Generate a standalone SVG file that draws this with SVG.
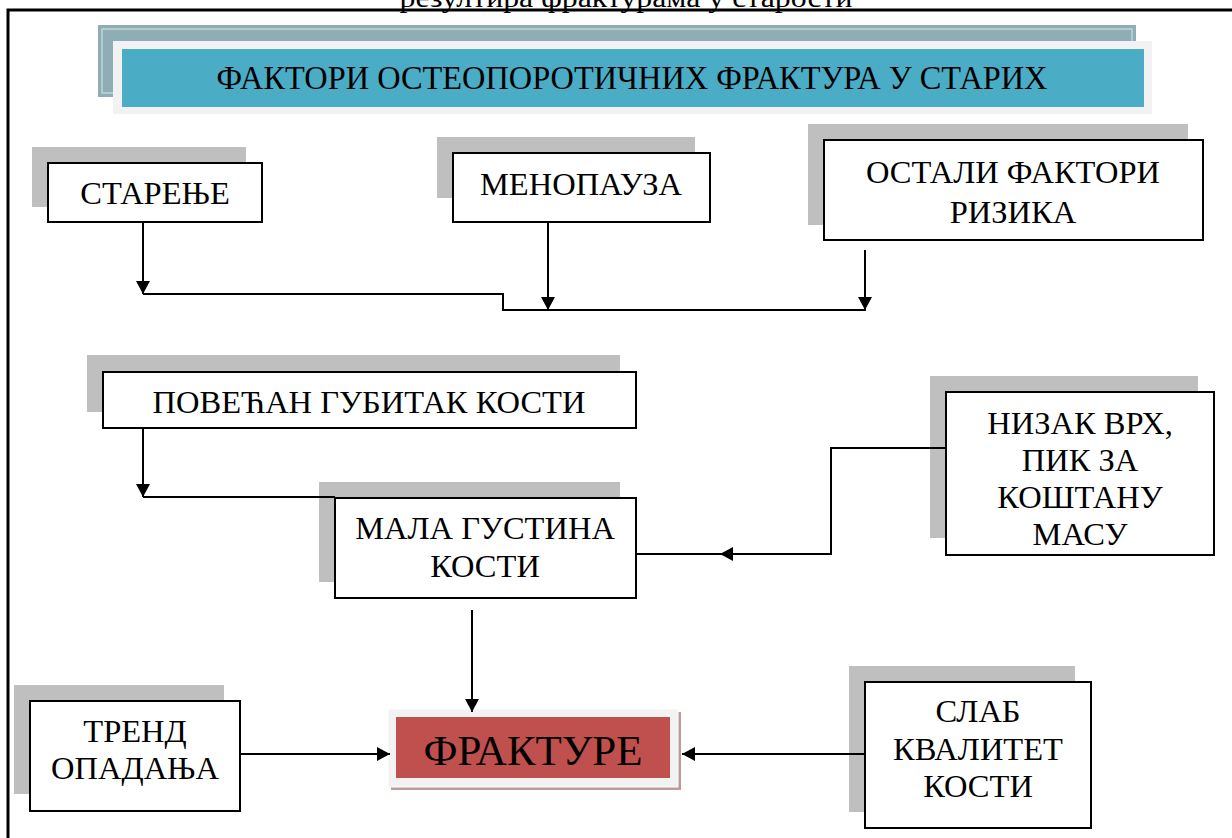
<svg xmlns="http://www.w3.org/2000/svg" width="1232" height="838" viewBox="0 0 1232 838">
<style>
.t{font-family:"Liberation Serif","Times New Roman",serif;font-size:32.5px;fill:#000;text-anchor:middle}
.sh{fill:#bfbfbf}
.bx{fill:#fff;stroke:#000;stroke-width:2}
.ln{fill:none;stroke:#000;stroke-width:2}
</style>
<defs>
<marker id="ah" markerUnits="userSpaceOnUse" markerWidth="14" markerHeight="14" refX="13" refY="7" orient="auto">
<path d="M0,0 L13,7 L0,14 z" fill="#000"/>
</marker>
</defs>
<rect width="1232" height="838" fill="#fff"/>
<text x="626" y="7" font-family="Liberation Serif, serif" font-size="28" text-anchor="middle" textLength="453" lengthAdjust="spacingAndGlyphs">резултира фрактурама у старости</text>
<path d="M8,838 V10 H1232" fill="none" stroke="#000" stroke-width="3"/>

<g id="header">
<rect x="98" y="25" width="1038" height="72" fill="#8fadb4"/>
<rect x="102" y="29" width="1030" height="64" fill="none" stroke="#dbe6e9" stroke-width="1"/>
<rect x="113" y="41" width="1039" height="73" fill="#f2f2f2"/>
<rect x="122" y="49" width="1022" height="58" fill="#4bacc6"/>
<text class="t" x="632" y="89" style="font-size:33px" textLength="831" lengthAdjust="spacingAndGlyphs">ФАКТОРИ ОСТЕОПОРОТИЧНИХ ФРАКТУРА У СТАРИХ</text>
</g>

<g id="starenje">
<rect class="sh" x="32" y="147" width="214" height="60"/>
<rect class="bx" x="48" y="163" width="214" height="59"/>
<text class="t" x="155" y="204">СТАРЕЊЕ</text>
</g>

<g id="menopauza">
<rect class="sh" x="437" y="137" width="258" height="61"/>
<rect class="bx" x="453" y="153" width="257" height="69"/>
<text class="t" x="581" y="195">МЕНОПАУЗА</text>
</g>

<g id="ostali">
<rect class="sh" x="808" y="124" width="380" height="101"/>
<rect class="bx" x="824" y="140" width="379" height="100"/>
<text class="t" x="1013" y="183">ОСТАЛИ ФАКТОРИ</text>
<text class="t" x="1013" y="223">РИЗИКА</text>
</g>

<g id="povecan">
<rect class="sh" x="87" y="355" width="533" height="57"/>
<rect class="bx" x="103" y="372" width="533" height="56"/>
<text class="t" x="369" y="413">ПОВЕЋАН ГУБИТАК КОСТИ</text>
</g>

<g id="mala">
<rect class="sh" x="319" y="482" width="301" height="100"/>
<rect class="bx" x="335" y="498" width="301" height="100"/>
<text class="t" x="485" y="539">МАЛА ГУСТИНА</text>
<text class="t" x="485" y="577">КОСТИ</text>
</g>

<g id="nizak">
<rect class="sh" x="930" y="376" width="268" height="162"/>
<rect class="bx" x="946" y="392" width="268" height="163"/>
<text class="t" x="1080" y="434">НИЗАК ВРХ,</text>
<text class="t" x="1080" y="471">ПИК ЗА</text>
<text class="t" x="1080" y="508">КОШТАНУ</text>
<text class="t" x="1080" y="545">МАСУ</text>
</g>

<g id="trend">
<rect class="sh" x="14" y="685" width="210" height="109"/>
<rect class="bx" x="30" y="701" width="210" height="110"/>
<text class="t" x="135" y="742">ТРЕНД</text>
<text class="t" x="135" y="779">ОПАДАЊА</text>
</g>

<g id="slab">
<rect class="sh" x="849" y="666" width="226" height="146"/>
<rect class="bx" x="865" y="682" width="226" height="146"/>
<text class="t" x="978" y="722">СЛАБ</text>
<text class="t" x="978" y="760">КВАЛИТЕТ</text>
<text class="t" x="978" y="797">КОСТИ</text>
</g>

<g id="frakture">
<rect x="391" y="712" width="290" height="78" fill="#bf9a9a"/>
<rect x="388" y="709" width="290" height="78" fill="#f2f2f2" stroke="#fff" stroke-width="1"/>
<rect x="396" y="717" width="274" height="61" fill="#c0504d"/>
<text class="t" x="533" y="765" style="font-size:43px">ФРАКТУРЕ</text>
</g>

<g id="connectors">
<path class="ln" d="M143,222 V294" marker-end="url(#ah)"/>
<path class="ln" d="M143,294 H503 V310 H866"/>
<path class="ln" d="M548,222 V310" marker-end="url(#ah)"/>
<path class="ln" d="M865,250 V310" marker-end="url(#ah)"/>
<path class="ln" d="M143,428 V497" marker-end="url(#ah)"/>
<path class="ln" d="M143,497 H335"/>
<path class="ln" d="M946,448 H831 V554 H720" marker-end="url(#ah)"/>
<path class="ln" d="M720,554 H636"/>
<path class="ln" d="M472,610 V712" marker-end="url(#ah)"/>
<path class="ln" d="M240,754 H390" marker-end="url(#ah)"/>
<path class="ln" d="M865,754 H682" marker-end="url(#ah)"/>
</g>
</svg>
